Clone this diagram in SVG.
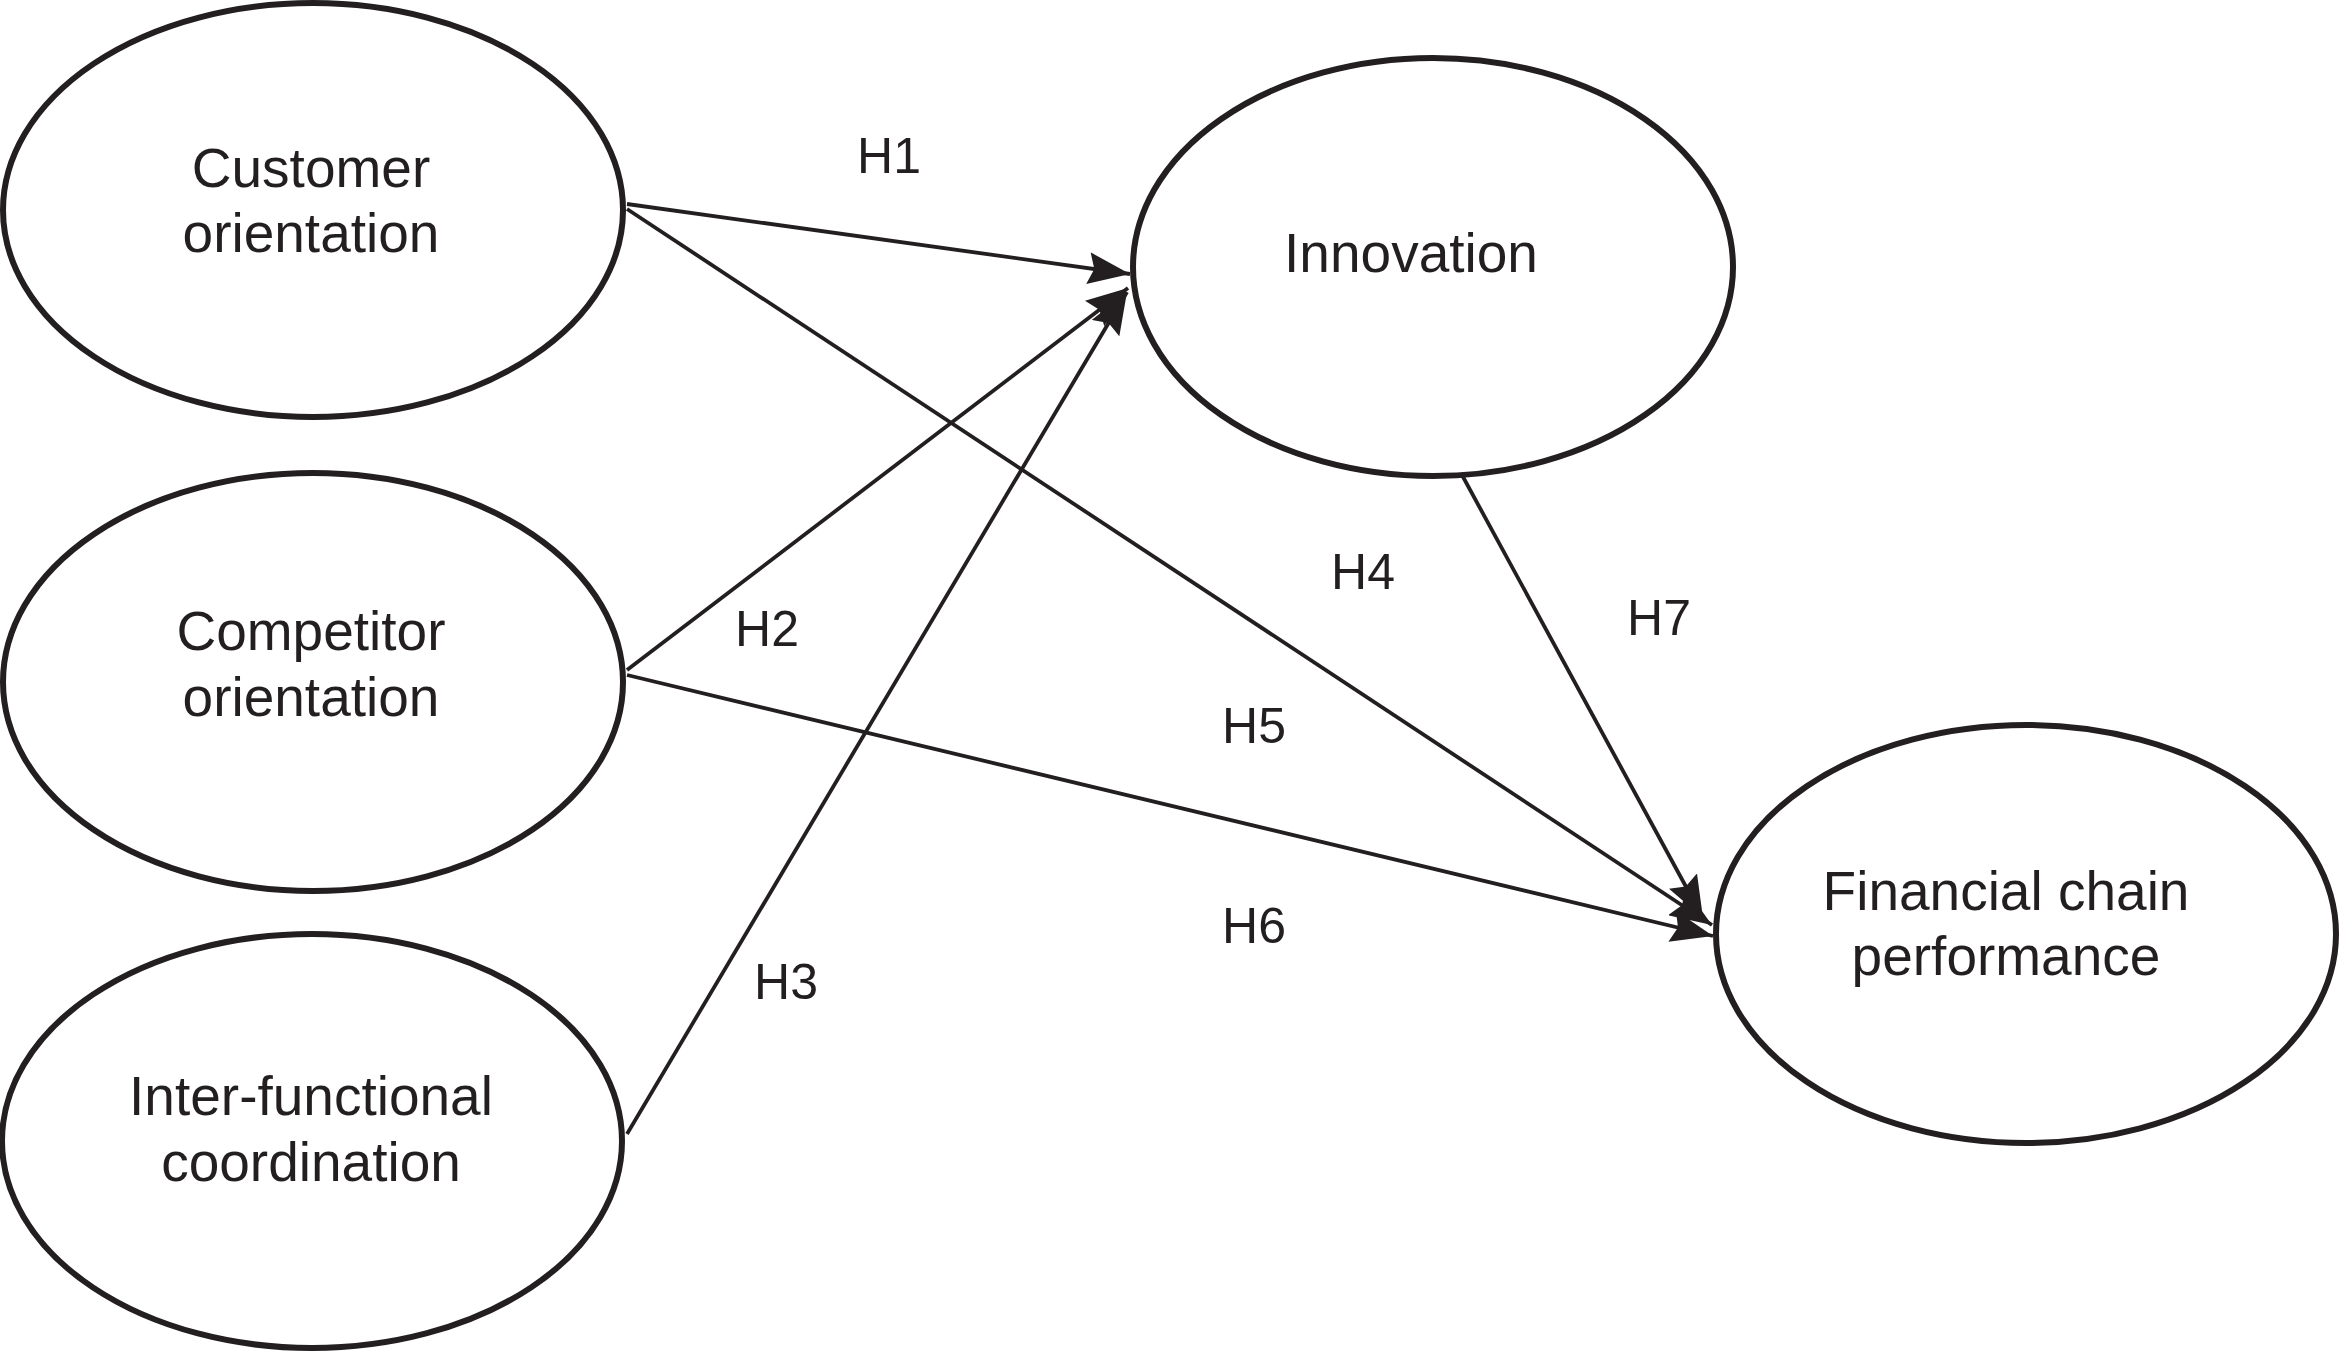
<svg xmlns="http://www.w3.org/2000/svg" width="2340" height="1352" viewBox="0 0 2340 1352">
<style>
.node ellipse{fill:#fff;stroke:#231f20;stroke-width:6}
.lbl{font-family:"Liberation Sans",Arial,sans-serif;font-size:55px;fill:#231f20;text-anchor:middle}
.h{font-family:"Liberation Sans",Arial,sans-serif;font-size:50px;fill:#231f20;text-anchor:middle}
.edge{stroke:#231f20;stroke-width:3.8;fill:none;marker-end:url(#ah)}
</style>
<defs>
<marker id="ah" markerUnits="userSpaceOnUse" markerWidth="44" markerHeight="32" refX="42" refY="16" orient="auto" viewBox="0 0 44 32">
<path d="M0,0 L42,16 L0,32 L6,16 Z" fill="#231f20"/>
</marker>
</defs>
<rect width="2340" height="1352" fill="#fff"/>
<g id="connectors">
<path class="edge" d="M627,204 L1130,274"/>
<path class="edge" d="M627,209 L1712,925"/>
<path class="edge" d="M627,670 L1128,288"/>
<path class="edge" d="M627,675 L1713,936"/>
<path class="edge" d="M627,1134 L1127,292"/>
<path class="edge" d="M1462,475 L1703,918"/>
</g>
<g id="customer" class="node">
<ellipse cx="313" cy="210" rx="310" ry="207"/>
<text class="lbl" x="311" y="187">Customer</text>
<text class="lbl" x="311" y="252">orientation</text>
</g>
<g id="competitor" class="node">
<ellipse cx="313" cy="682" rx="310" ry="209"/>
<text class="lbl" x="311" y="650">Competitor</text>
<text class="lbl" x="311" y="716">orientation</text>
</g>
<g id="interfunctional" class="node">
<ellipse cx="312" cy="1141" rx="310" ry="207"/>
<text class="lbl" x="311" y="1115">Inter-functional</text>
<text class="lbl" x="311" y="1181">coordination</text>
</g>
<g id="innovation" class="node">
<ellipse cx="1433" cy="267" rx="300" ry="209"/>
<text class="lbl" x="1411" y="272">Innovation</text>
</g>
<g id="financial" class="node">
<ellipse cx="2026" cy="934" rx="310" ry="209"/>
<text class="lbl" x="2006" y="910">Financial chain</text>
<text class="lbl" x="2006" y="975">performance</text>
</g>
<g id="labels">
<text class="h" x="889" y="173">H1</text>
<text class="h" x="767" y="646">H2</text>
<text class="h" x="786" y="999">H3</text>
<text class="h" x="1363" y="589">H4</text>
<text class="h" x="1254" y="743">H5</text>
<text class="h" x="1254" y="943">H6</text>
<text class="h" x="1659" y="635">H7</text>
</g>
</svg>
